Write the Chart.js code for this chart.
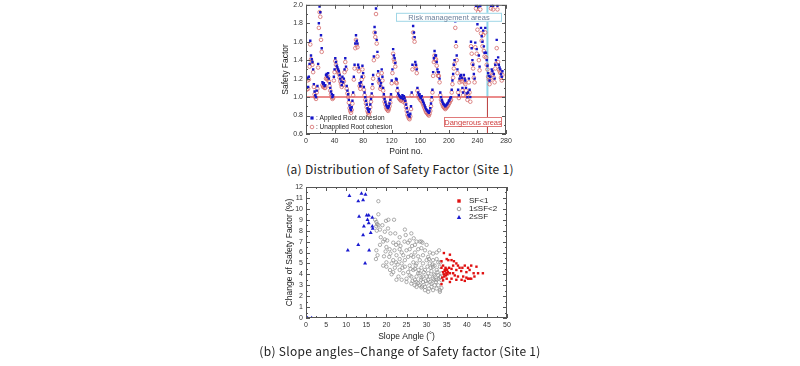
<!DOCTYPE html>
<html>
<head>
<meta charset="utf-8">
<script src="https://cdn.jsdelivr.net/npm/chart.js@4.4.1/dist/chart.umd.min.js"></script>
<style>
  html, body { margin: 0; padding: 0; background: #fff; }
  body { width: 800px; height: 366px; position: relative; overflow: hidden; }
  canvas { position: absolute; }
  .cap { position: absolute; left: 0; width: 800px; text-align: center; font-family: "Noto Sans CJK KR", "Noto Sans", sans-serif; font-size: 12px; letter-spacing: 0.3px; line-height: 14px; color: #222; }
</style>
</head>
<body>
<canvas id="sf" width="250" height="160" style="left:270px;top:0"></canvas>
<canvas id="chg" width="250" height="165" style="left:270px;top:180px"></canvas>
<div class="cap" style="top:162px">(a) Distribution of Safety Factor (Site 1)</div>
<div class="cap" style="top:344px">(b) Slope angles–Change of Safety factor (Site 1)</div>
<script>
// (a) safety factor per point no. 1..275
const applied = [
  1.10, 1.21, 1.11, 1.22, 1.36, 1.61, 1.45, 1.41, 1.38, 1.30,
  1.14, 1.06, 1.02, 1.00, 1.07, 1.12, 1.36, 1.80, 1.98, 1.92,
  1.67, 1.53, 1.16, 1.14, 1.15, 1.12, 1.13, 1.24, 1.25, 1.22,
  1.26, 1.20, 1.15, 1.10, 1.06, 1.03, 1.00, 1.02, 1.22, 1.30,
  1.42, 1.38, 1.34, 1.32, 1.30, 1.28, 1.24, 1.20, 1.17, 1.13,
  1.22, 1.16, 1.20, 1.30, 1.42, 1.33, 1.12, 1.07, 1.03, 0.97,
  0.91, 0.88, 0.86, 0.89, 0.96, 1.05, 1.22, 1.35, 1.58, 1.67,
  1.61, 1.58, 1.35, 1.32, 1.15, 1.12, 1.16, 1.22, 1.34, 1.26,
  1.11, 1.05, 1.00, 0.96, 0.92, 0.88, 0.86, 0.84, 0.87, 0.92,
  0.98, 1.04, 1.14, 1.24, 1.44, 1.76, 1.70, 1.96, 1.62, 1.49,
  1.28, 1.20, 1.18, 1.12, 1.15, 1.30, 1.22, 1.10, 1.03, 0.98,
  0.95, 0.92, 0.90, 0.89, 0.88, 0.90, 0.93, 0.97, 1.03, 1.18,
  1.30, 1.52, 1.45, 1.42, 1.37, 1.20, 1.19, 1.10, 1.04, 1.02,
  1.01, 1.00, 0.99, 1.00, 1.02, 0.98, 1.01, 0.99, 0.96, 0.92,
  0.88, 0.84, 0.81, 0.80, 0.79, 0.82, 0.90, 1.05, 1.35, 1.77,
  1.70, 1.65, 1.38, 1.35, 1.30, 1.10, 1.05, 1.02, 1.03, 1.00,
  0.99, 1.01, 0.97, 0.95, 0.93, 0.91, 0.89, 0.87, 0.86, 0.85,
  0.84, 0.83, 0.85, 0.88, 0.93, 1.00, 1.08, 1.27, 1.42, 1.50,
  1.45, 1.45, 1.38, 1.30, 1.27, 1.27, 1.20, 1.05, 1.00, 0.97,
  0.95, 0.93, 0.92, 0.91, 0.90, 0.91, 0.92, 0.93, 0.94, 0.96,
  0.97, 0.99, 1.00, 1.08, 1.18, 1.25, 1.35, 1.40, 1.82, 1.60,
  1.45, 1.30, 1.08, 1.02, 1.20, 1.23, 1.24, 1.21, 1.10, 1.05,
  1.24, 1.20, 1.18, 1.10, 1.04, 1.00, 1.05, 1.20, 1.08, 1.00,
  1.60, 1.53, 1.40, 1.35, 1.25, 1.20, 1.59, 1.99, 1.52, 1.79,
  1.98, 1.45, 1.33, 1.99, 1.75, 1.66, 1.60, 1.72, 1.55, 1.48,
  1.75, 1.48, 1.40, 1.34, 1.26, 1.23, 1.18, 1.22, 1.99, 1.30,
  1.28, 1.99, 1.25, 1.20, 1.35, 1.40, 1.62, 1.99, 1.43, 1.35,
  1.32, 1.30, 1.25, 1.22, 1.28
];
const unapplied = [
  1.08, 1.18, 1.09, 1.19, 1.33, 1.57, 1.41, 1.38, 1.35, 1.27,
  1.11, 1.03, 1.00, 0.98, 1.05, 1.09, 1.32, 1.75, 1.92, 1.87,
  1.62, 1.49, 1.13, 1.11, 1.12, 1.10, 1.10, 1.20, 1.21, 1.19,
  1.22, 1.17, 1.12, 1.07, 1.03, 1.00, 0.98, 0.99, 1.18, 1.27,
  1.39, 1.35, 1.30, 1.29, 1.27, 1.25, 1.21, 1.17, 1.14, 1.11,
  1.18, 1.13, 1.17, 1.27, 1.38, 1.30, 1.09, 1.04, 1.00, 0.94,
  0.88, 0.85, 0.83, 0.86, 0.93, 1.02, 1.19, 1.31, 1.53, 1.62,
  1.57, 1.54, 1.31, 1.28, 1.12, 1.09, 1.13, 1.19, 1.30, 1.22,
  1.08, 1.02, 0.97, 0.93, 0.89, 0.85, 0.83, 0.81, 0.84, 0.89,
  0.95, 1.01, 1.10, 1.20, 1.40, 1.70, 1.65, 1.90, 1.58, 1.44,
  1.24, 1.17, 1.15, 1.09, 1.11, 1.26, 1.18, 1.07, 1.00, 0.95,
  0.92, 0.89, 0.87, 0.86, 0.85, 0.87, 0.90, 0.94, 1.00, 1.15,
  1.26, 1.47, 1.41, 1.38, 1.33, 1.16, 1.15, 1.07, 1.01, 0.99,
  0.98, 0.97, 0.96, 0.97, 0.99, 0.95, 0.98, 0.96, 0.93, 0.89,
  0.85, 0.81, 0.79, 0.77, 0.76, 0.79, 0.87, 1.02, 1.30, 1.70,
  1.64, 1.60, 1.34, 1.31, 1.26, 1.07, 1.02, 0.99, 1.00, 0.97,
  0.96, 0.98, 0.94, 0.92, 0.90, 0.88, 0.86, 0.84, 0.83, 0.82,
  0.81, 0.80, 0.82, 0.85, 0.90, 0.97, 1.05, 1.23, 1.38, 1.45,
  1.40, 1.41, 1.34, 1.26, 1.23, 1.23, 1.16, 1.02, 0.97, 0.94,
  0.92, 0.90, 0.89, 0.88, 0.87, 0.88, 0.89, 0.90, 0.91, 0.93,
  0.94, 0.96, 0.97, 1.05, 1.14, 1.21, 1.31, 1.36, 1.75, 1.55,
  1.40, 1.26, 1.05, 0.99, 1.16, 1.19, 1.20, 1.17, 1.07, 1.02,
  1.20, 1.16, 1.14, 1.07, 1.01, 0.97, 1.02, 1.16, 1.05, 0.95,
  1.55, 1.47, 1.36, 1.31, 1.21, 1.16, 1.54, 1.96, 1.47, 1.73,
  1.92, 1.40, 1.29, 1.95, 1.69, 1.61, 1.55, 1.67, 1.50, 1.44,
  1.70, 1.43, 1.35, 1.30, 1.22, 1.19, 1.14, 1.18, 1.96, 1.26,
  1.24, 1.95, 1.21, 1.16, 1.31, 1.36, 1.53, 1.95, 1.38, 1.30,
  1.28, 1.26, 1.21, 1.18, 1.24
];
const SF_LIMIT = 1.0;
const RISK_POINT = 254;

// (b) slope angle vs change of safety factor, by safety factor class
const lowAngle = [34.3, 35.8, 33.7, 35.0, 35.4, 36.2, 36.8, 34.1, 34.7, 35.1, 34.5, 34.1, 34.9, 34.3, 34.8, 35.3, 36.2, 36.6, 37.4, 37.8,
  38.2, 38.9, 39.5, 40.3, 41.1, 42.4, 37.4, 38.6, 39.9, 40.7, 41.7, 42.8, 44.0, 37.0, 37.8, 39.1, 39.9, 40.7, 41.9, 38.7,
  39.5, 40.3, 41.1, 36.2, 35.8, 33.7, 34.1, 33.9, 37.4, 36.6, 35.8, 33.7, 34.6, 34.9, 35.2, 34.4, 35.6, 35.0];
const lowChange = [5.95, 5.8, 5.2, 5.4, 5.3, 5.3, 5.2, 4.8, 4.6, 4.4, 4.4, 4.2, 4.1, 4.0, 3.9, 4.2, 4.5, 4.8, 5.0, 4.8,
  4.6, 4.6, 4.8, 4.6, 4.8, 4.7, 4.4, 4.3, 4.2, 4.4, 4.1, 4.1, 4.1, 3.9, 3.8, 3.8, 3.7, 3.6, 3.8, 3.5,
  3.4, 3.6, 3.6, 3.6, 3.3, 3.1, 3.45, 3.7, 3.5, 4.1, 4.1, 4.6, 4.3, 4.5, 4.0, 3.8, 4.6, 3.6];
const midAngle = [18.0, 18.0, 17.2, 17.5, 17.7, 18.0, 17.5, 18.4, 19.9, 20.5, 21.9, 19.6, 21.0, 22.2, 24.6, 23.3, 24.8, 26.2, 26.8, 27.5,
  28.3, 19.6, 20.2, 21.7, 22.4, 23.0, 17.5, 17.8, 17.4, 19.4, 19.2, 20.7, 20.0, 21.3, 21.7, 22.4, 22.5, 23.3, 23.8, 24.2,
  25.0, 25.8, 26.2, 27.1, 27.9, 28.7, 29.6, 30.8, 31.6, 32.5, 33.1, 21.3, 22.1, 23.3, 24.6, 25.4, 25.0, 25.8, 26.7, 27.1,
  27.5, 27.9, 28.3, 28.7, 29.1, 29.6, 30.0, 30.4, 30.6, 31.2, 31.6, 32.0, 32.5, 32.9, 33.3, 33.4, 32.5, 31.6, 30.8, 30.0,
  29.1, 28.3, 27.5, 26.7, 25.8, 28.7, 29.6, 30.4, 31.2, 32.0, 32.9, 33.3, 24.2, 23.0, 23.8, 25.0, 26.2, 27.5, 28.7, 29.6,
  30.4, 31.6, 32.5, 33.3, 31.2, 32.0, 33.7, 29.1, 27.9, 27.1, 26.2, 24.6, 23.8, 25.4, 26.7, 27.9, 29.1, 30.4, 31.6, 32.5,
  20.8, 22.0, 23.3, 18.4, 20.0, 25.4, 27.1, 28.7, 30.0, 19.0, 20.4, 25.8, 20.9, 20.0, 21.7, 22.5, 27.5, 28.3, 30.0, 30.8,
  32.9, 33.7, 33.4, 33.7, 26.0, 27.3, 28.0, 29.3, 30.2, 31.0, 31.8, 32.3, 29.8, 28.6, 27.0, 26.5, 24.0, 22.8, 21.0, 19.8,
  18.6, 17.6, 19.2, 23.5, 24.5, 26.4, 29.0, 30.6, 31.5, 32.7, 33.0, 28.9, 30.9, 31.9];
const midChange = [10.7, 9.5, 9.0, 8.8, 8.6, 8.5, 8.4, 8.1, 8.9, 9.0, 9.0, 7.9, 7.75, 7.75, 8.1, 7.4, 7.6, 7.75, 7.3, 7.0,
  7.0, 7.2, 7.1, 6.9, 6.7, 6.9, 6.2, 5.75, 5.4, 5.65, 4.8, 5.6, 5.1, 5.0, 5.3, 5.1, 5.75, 5.4, 5.0, 5.75,
  6.2, 6.3, 5.75, 6.0, 6.3, 6.4, 6.2, 6.0, 5.9, 6.0, 6.2, 4.0, 4.6, 4.4, 4.7, 4.2, 3.6, 3.9, 4.4, 3.5,
  3.8, 3.2, 4.1, 3.7, 3.3, 2.85, 3.8, 3.5, 2.7, 3.15, 3.6, 3.9, 3.5, 3.0, 2.55, 3.75, 4.4, 4.7, 5.0, 5.3,
  5.0, 5.3, 5.0, 5.1, 4.8, 4.6, 4.4, 4.1, 4.3, 4.8, 5.1, 4.7, 4.1, 3.8, 3.5, 3.3, 3.15, 2.85, 2.8, 2.55,
  2.4, 2.55, 2.7, 2.4, 2.85, 3.0, 3.45, 3.8, 4.1, 4.5, 3.8, 5.3, 6.0, 5.6, 5.6, 5.65, 5.75, 5.6, 5.3, 5.4,
  6.3, 6.2, 6.3, 6.7, 6.5, 6.9, 6.7, 7.0, 6.7, 8.5, 8.2, 7.1, 4.4, 4.7, 4.2, 3.5, 3.3, 3.0, 3.15, 3.8,
  3.9, 4.1, 5.1, 2.75, 4.5, 4.8, 4.4, 4.2, 4.7, 4.6, 4.0, 3.3, 3.4, 3.5, 3.0, 3.4, 4.6, 4.9, 5.9, 6.1,
  7.4, 8.0, 7.0, 6.6, 7.0, 6.6, 6.9, 5.4, 4.9, 4.2, 3.6, 2.9, 3.3, 3.5];
const highAngle = [10.8, 13.8, 14.8, 13.0, 14.2, 13.2, 15.1, 15.6, 16.5, 15.3, 15.6, 14.4, 16.5, 16.6, 14.2, 16.1, 13.0, 10.4, 15.7, 14.7, 0.4, 1.4];
const highChange = [11.2, 11.4, 11.3, 10.7, 10.8, 9.3, 9.4, 9.4, 9.2, 9.0, 8.7, 8.4, 8.4, 8.2, 7.6, 7.8, 6.7, 6.2, 6.2, 5.0, 0, 0];

const FONT = '"Liberation Sans", Arial, sans-serif';
const pairs = (xs, ys) => xs.map((x, i) => ({ x, y: ys[i] }));

// box frame with inward major/minor ticks on all four sides
const framePlugin = {
  id: 'frame',
  afterDraw(chart, args, o) {
    const { ctx, chartArea: a, scales: { x, y } } = chart;
    ctx.save();
    ctx.strokeStyle = '#555';
    ctx.lineWidth = 1;
    ctx.strokeRect(a.left + 0.5, a.top + 0.5, a.right - a.left - 1, a.bottom - a.top - 1);
    ctx.beginPath();
    const isMajor = (v, step) => Math.abs(v / step - Math.round(v / step)) < 1e-6;
    for (let v = x.min; v <= x.max + 1e-9; v += o.xMinor) {
      const px = Math.round(x.getPixelForValue(v)) + 0.5;
      const len = isMajor(v - x.min, o.xMajor) ? 4 : 2;
      ctx.moveTo(px, a.bottom); ctx.lineTo(px, a.bottom - len);
      ctx.moveTo(px, a.top); ctx.lineTo(px, a.top + len);
    }
    for (let v = y.min; v <= y.max + 1e-9; v += o.yMinor) {
      const py = Math.round(y.getPixelForValue(v)) + 0.5;
      const len = isMajor(v - y.min, o.yMajor) ? 4 : 2;
      ctx.moveTo(a.left, py); ctx.lineTo(a.left + len, py);
      ctx.moveTo(a.right, py); ctx.lineTo(a.right - len, py);
    }
    ctx.stroke();
    ctx.restore();
  }
};

function axis(min, max, step, title, titlePad, extra) {
  return Object.assign({
    type: 'linear', min, max,
    grid: { display: false, drawTicks: false },
    border: { display: false },
    ticks: { stepSize: step, autoSkip: false, color: '#333', font: { family: FONT, size: 7 }, padding: 3 },
    title: { display: true, text: title, color: '#222', font: { family: FONT, size: 8.5 }, padding: titlePad }
  }, extra);
}

function line(ctx, x1, y1, x2, y2) {
  ctx.beginPath(); ctx.moveTo(x1, y1); ctx.lineTo(x2, y2); ctx.stroke();
}

function labelBox(ctx, text, right, top, w, h, stroke, color) {
  ctx.fillStyle = '#fff';
  ctx.fillRect(right - w, top, w, h);
  ctx.strokeStyle = stroke; ctx.lineWidth = 1;
  ctx.strokeRect(right - w + 0.5, top + 0.5, w - 1, h - 1);
  ctx.fillStyle = color;
  ctx.font = '7.5px ' + FONT;
  ctx.textAlign = 'center'; ctx.textBaseline = 'middle';
  ctx.fillText(text, right - w / 2, top + h / 2 + 0.5);
}

const sfNotes = {
  id: 'sfNotes',
  beforeDatasetsDraw(chart) {
    const { ctx, chartArea: a, scales: { x, y } } = chart;
    const y1 = y.getPixelForValue(SF_LIMIT);
    const xr = x.getPixelForValue(RISK_POINT);
    ctx.save();
    ctx.strokeStyle = '#8fd5e8'; ctx.lineWidth = 2;
    line(ctx, xr, a.top, xr, y1);
    ctx.strokeStyle = '#b83a3a'; ctx.lineWidth = 1;
    line(ctx, xr, y1, xr, a.bottom);
    ctx.strokeStyle = '#e46464'; ctx.lineWidth = 1.5;
    line(ctx, a.left, y1, a.right, y1);
    ctx.restore();
  },
  afterDatasetsDraw(chart) {
    const { ctx, chartArea: a } = chart;
    ctx.save();
    labelBox(ctx, 'Risk management areas', a.right - 4, a.top + 8, 106, 9, '#9fd6e6', '#6a7f9a');
    labelBox(ctx, 'Dangerous areas', a.right - 4, a.bottom - 17, 58, 10, '#e07a7a', '#d04040');
    // legend
    const lx = a.left + 6;
    ctx.fillStyle = '#1515c8';
    ctx.fillRect(lx - 1.6, a.bottom - 17.6, 3.2, 3.2);
    ctx.strokeStyle = '#d46a6a'; ctx.lineWidth = 0.8;
    ctx.beginPath(); ctx.arc(lx, a.bottom - 7, 1.8, 0, Math.PI * 2); ctx.stroke();
    ctx.fillStyle = '#222';
    ctx.font = '6.5px ' + FONT;
    ctx.textAlign = 'left'; ctx.textBaseline = 'middle';
    ctx.fillText(': Applied Root cohesion', lx + 4, a.bottom - 16);
    ctx.fillText(': Unapplied Root cohesion', lx + 4, a.bottom - 7);
    ctx.restore();
  }
};

const sfY = axis(0.6, 2.0, 0.2, 'Safety Factor', { top: 11, bottom: 0 },
  { afterFit(s) { s.width = 36; s.paddingTop = 0; s.paddingBottom = 0; } });
sfY.ticks.callback = v => v.toFixed(1);

new Chart(document.getElementById('sf'), {
  type: 'scatter',
  data: {
    datasets: [
      {
        label: 'Applied Root cohesion', order: 0,
        data: pairs(applied.map((v, i) => i + 1), applied),
        pointStyle: 'rect', pointRadius: 1.7, borderWidth: 0,
        backgroundColor: '#1515c8', borderColor: '#1515c8'
      },
      {
        label: 'Unapplied Root cohesion', order: 1,
        data: pairs(unapplied.map((v, i) => i + 1), unapplied),
        pointStyle: 'circle', pointRadius: 1.8, borderWidth: 0.8,
        backgroundColor: 'rgba(0,0,0,0)', borderColor: '#d46a6a'
      }
    ]
  },
  options: {
    responsive: false, animation: false,
    layout: { padding: { left: 0, top: 3, right: 14, bottom: 0 } },
    plugins: {
      legend: { display: false }, tooltip: { enabled: false },
      frame: { xMajor: 40, xMinor: 20, yMajor: 0.2, yMinor: 0.1 }
    },
    scales: {
      x: axis(0, 280, 40, 'Point no.', { top: 0, bottom: 3 },
        { afterFit(s) { s.height = 26; s.paddingLeft = 0; s.paddingRight = 0; } }),
      y: sfY
    }
  },
  plugins: [framePlugin, sfNotes]
});

const chgLegend = {
  id: 'chgLegend',
  afterDatasetsDraw(chart) {
    const { ctx, chartArea: a } = chart;
    const mx = a.right - 48, tx = a.right - 38;
    ctx.save();
    ctx.fillStyle = '#e01010';
    ctx.fillRect(mx - 1.7, a.top + 14 - 1.7, 3.4, 3.4);
    ctx.strokeStyle = '#888'; ctx.lineWidth = 0.8;
    ctx.beginPath(); ctx.arc(mx, a.top + 22, 1.8, 0, Math.PI * 2); ctx.stroke();
    ctx.fillStyle = '#1a1ad0';
    ctx.beginPath(); ctx.moveTo(mx, a.top + 28); ctx.lineTo(mx + 2.2, a.top + 32); ctx.lineTo(mx - 2.2, a.top + 32); ctx.closePath(); ctx.fill();
    ctx.fillStyle = '#222';
    ctx.font = '8px ' + FONT;
    ctx.textAlign = 'left'; ctx.textBaseline = 'middle';
    ctx.fillText('SF<1', tx, a.top + 14);
    ctx.fillText('1≤SF<2', tx, a.top + 22);
    ctx.fillText('2≤SF', tx, a.top + 30);
    ctx.restore();
  }
};

new Chart(document.getElementById('chg'), {
  type: 'scatter',
  data: {
    datasets: [
      {
        label: 'SF<1', data: pairs(lowAngle, lowChange),
        pointStyle: 'rect', pointRadius: 1.7, borderWidth: 0,
        backgroundColor: '#e01010', borderColor: '#e01010'
      },
      {
        label: '1≤SF<2', data: pairs(midAngle, midChange),
        pointStyle: 'circle', pointRadius: 1.7, borderWidth: 0.7,
        backgroundColor: 'rgba(0,0,0,0)', borderColor: '#8a8a8a'
      },
      {
        label: '2≤SF', data: pairs(highAngle, highChange),
        pointStyle: 'triangle', pointRadius: 2.3, borderWidth: 0,
        backgroundColor: '#1a1ad0', borderColor: '#1a1ad0'
      }
    ]
  },
  options: {
    responsive: false, animation: false,
    layout: { padding: { left: 0, top: 7, right: 13, bottom: 0 } },
    plugins: {
      legend: { display: false }, tooltip: { enabled: false },
      frame: { xMajor: 5, xMinor: 2.5, yMajor: 1, yMinor: 0.5 }
    },
    scales: {
      x: axis(0, 50, 5, 'Slope Angle (˚)', { top: 0, bottom: 3 },
        { afterFit(s) { s.height = 27; s.paddingLeft = 0; s.paddingRight = 0; } }),
      y: axis(0, 12, 1, 'Change of Safety Factor (%)', { top: 15, bottom: 0 },
        { afterFit(s) { s.width = 36; s.paddingTop = 0; s.paddingBottom = 0; } })
    }
  },
  plugins: [framePlugin, chgLegend]
});
</script>
</body>
</html>
